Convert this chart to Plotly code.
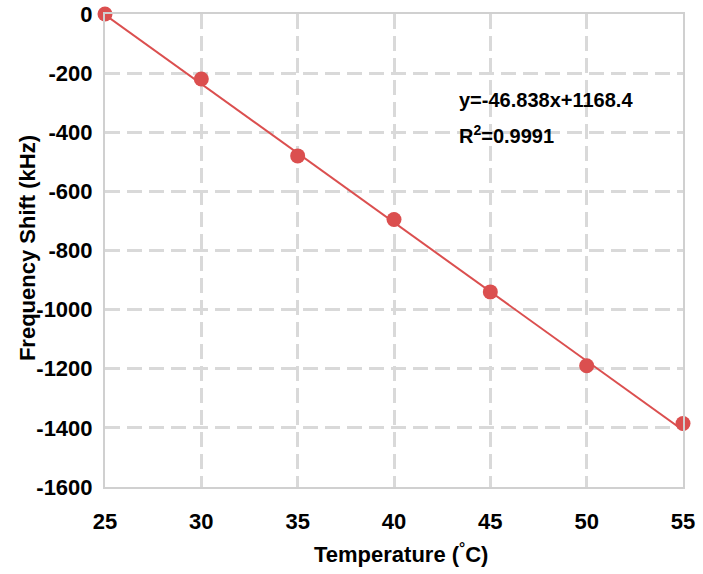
import plotly.graph_objects as go

# temperature vs frequency shift, with linear fit
temperature = [25, 30, 35, 40, 45, 50, 55]
freq_shift = [0, -220, -480, -695, -940, -1190, -1385]

slope = -46.838
intercept = 1168.4
r2 = 0.9991

x_ticks = [25, 30, 35, 40, 45, 50, 55]
y_ticks = [0, -200, -400, -600, -800, -1000, -1200, -1400, -1600]
y_labels = ["0", "-200", "-400", "-600", "-800", "-1000", "-1200", "-1400", "-1600"]

fit_x = [25, 55]
fit_y = [slope * x + intercept for x in fit_x]

red = "#DB4F4F"
font = "Liberation Sans, Arial, sans-serif"

fig = go.Figure()
fig.add_trace(go.Scatter(x=fit_x, y=fit_y, mode="lines",
                         line=dict(color=red, width=2), showlegend=False))
fig.add_trace(go.Scatter(x=temperature, y=freq_shift, mode="markers",
                         marker=dict(color=red, size=15), showlegend=False,
                         cliponaxis=False))

# fit equation
fig.add_annotation(x=43.25, y=-290, xanchor="left", yanchor="middle", showarrow=False,
                   text="<b>y=-46.838x+1168.4</b>", font=dict(size=20, color="black", family=font))
fig.add_annotation(x=43.25, y=-408, xanchor="left", yanchor="middle", showarrow=False,
                   text="<b>R<sup>2</sup>=%.4f</b>" % r2, font=dict(size=20, color="black", family=font))

# axis titles as annotations so they sit where the original has them
fig.add_annotation(xref="paper", yref="paper", x=0.512, y=-0.1395, showarrow=False,
                   xanchor="center", yanchor="middle",
                   text="<b>Temperature (<sup>°</sup>C)</b>", font=dict(size=22, color="black", family=font))
fig.add_annotation(xref="paper", yref="paper", x=-0.135, y=0.505, showarrow=False,
                   xanchor="center", yanchor="middle", textangle=-90,
                   text="<b>Frequency Shift (kHz)</b>", font=dict(size=22, color="black", family=font))

fig.update_layout(
    width=703, height=574,
    margin=dict(l=105, r=20, t=14, b=87, autoexpand=False),
    plot_bgcolor="white", paper_bgcolor="white",
    font=dict(family=font, size=22, color="black"),
)
fig.update_xaxes(
    range=[25, 55], tickvals=x_ticks,
    tickfont=dict(size=22, weight="bold"),
    showgrid=True, gridcolor="#D9D9D9", griddash="15px,7px", gridwidth=2.5,
    showline=True, linecolor="#D0D0D0", linewidth=2, mirror=True,
    zeroline=False, ticks="", ticklabelstandoff=14, automargin=False,
    ticklabeloverflow="allow",
)
fig.update_yaxes(
    range=[-1600, 0], tickvals=y_ticks, ticktext=y_labels,
    tickfont=dict(size=22, weight="bold"),
    showgrid=True, gridcolor="#D9D9D9", griddash="15px,7px", gridwidth=2.5,
    showline=True, linecolor="#D0D0D0", linewidth=2, mirror=True,
    zeroline=False, ticks="", ticklabelstandoff=6, automargin=False,
    ticklabeloverflow="allow",
)

# drop the page's default body margin so the figure fills the window
fig.write_html("out.html", config={"displayModeBar": False},
               post_script="document.body.style.margin='0';")
